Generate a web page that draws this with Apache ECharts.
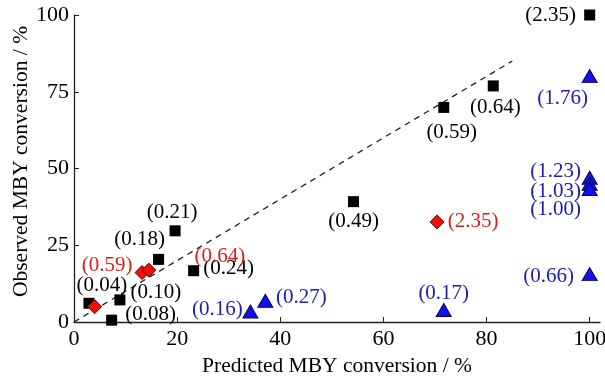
<!DOCTYPE html>
<html>
<head>
<meta charset="utf-8">
<title>MBY conversion parity plot</title>
<script src="https://cdn.jsdelivr.net/npm/echarts@6/dist/echarts.min.js"></script>
<style>
    html, body { margin: 0; padding: 0; background: #fff; }
    #chart { width: 605px; height: 376px; }
</style>
</head>
<body>
<div id="chart"></div>
<script>
    // black squares
    var blackX = [100, 81.3, 71.7, 54.2, 19.6, 16.4, 23.2, 8.9, 2.9, 7.3];
    var blackY = [100, 76.9, 69.9, 39.2, 29.7, 20.4, 16.7, 7.2, 6.1, 0.6];
    var blackText = ['(2.35)', '(0.64)', '(0.59)', '(0.49)', '(0.21)', '(0.18)', '(0.24)', '(0.10)', '(0.04)', '(0.08)'];
    // red diamonds
    var redX = [13.2, 14.5, 4.0, 70.4];
    var redY = [16.1, 16.9, 5.0, 32.6];
    var redText = ['(0.59)', '(0.64)', '', '(2.35)'];
    // blue triangles
    var blueX = [34.2, 37.1, 71.7, 100, 100, 100, 100, 100];
    var blueY = [3.4, 6.9, 3.9, 15.6, 80.1, 47, 45, 43.3];
    var blueText = ['(0.16)', '(0.27)', '(0.17)', '(0.66)', '(1.76)', '(1.23)', '(1.03)', '(1.00)'];
    // parity line
    var parityX = [0, 85];

    var xTicks = [0, 20, 40, 60, 80, 100];

    // where each label sits relative to its marker (px)
    var blackOffset = [[-39, 0], [2, 22], [8, 25], [0, 20], [-3, -18], [-19, -20], [35, -2], [36, -7], [13, -18], [39, -6]];
    var redOffset = [[-35, -7], [71, -14], [0, 0], [36, 0]];
    var blueOffset = [[-33, -2], [36, -3], [0, -17], [-41, 2], [-27, 22], [-34, -6], [-34, 8], [-34, 20]];

    var font = 'Liberation Serif';

    function build(xs, ys, texts, offs) {
        var out = [];
        for (var i = 0; i < xs.length; i++) {
            out.push({
                value: [xs[i], ys[i]],
                label: { formatter: texts[i], offset: offs[i] }
            });
        }
        return out;
    }

    var chart = echarts.init(document.getElementById('chart'));
    var option = {
        animation: false,
        grid: { left: 74, right: 5, top: 15, bottom: 54, outerBoundsMode: 'none' },
        xAxis: {
            type: 'value',
            min: 0,
            max: 102,
            interval: 20,
            name: 'Predicted MBY conversion / %',
            nameLocation: 'middle',
            nameGap: 27,
            nameTextStyle: { fontFamily: font, fontSize: 21.5, color: '#000' },
            axisLine: { lineStyle: { color: '#222', width: 1.3 } },
            axisTick: { inside: true, length: 5, lineStyle: { color: '#222' }, customValues: xTicks },
            axisLabel: { fontFamily: font, fontSize: 22, color: '#000', margin: 6, customValues: xTicks },
            splitLine: { show: false }
        },
        yAxis: {
            type: 'value',
            min: 0,
            max: 100,
            interval: 25,
            name: 'Observed MBY conversion / %',
            nameLocation: 'middle',
            nameGap: 42,
            nameMoveOverlap: false,
            nameTextStyle: { fontFamily: font, fontSize: 21.5, color: '#000', padding: [0, 0, 0, 14] },
            axisLine: { show: true, lineStyle: { color: '#222', width: 1.3 } },
            axisTick: { show: true, inside: true, length: 5, lineStyle: { color: '#222' } },
            axisLabel: { fontFamily: font, fontSize: 22, color: '#000', margin: 5 },
            splitLine: { show: false }
        },
        series: [
            {
                type: 'line',
                data: [[parityX[0], parityX[0]], [parityX[1], parityX[1]]],
                symbol: 'none',
                lineStyle: { color: '#222', width: 1.3, type: [6, 5] },
                z: 1
            },
            {
                type: 'scatter',
                symbol: 'rect',
                symbolSize: 11,
                itemStyle: { color: '#000', opacity: 1 },
                label: { show: true, position: 'inside', fontFamily: font, fontSize: 21, color: '#000' },
                data: build(blackX, blackY, blackText, blackOffset),
                z: 3
            },
            {
                type: 'scatter',
                symbol: 'diamond',
                symbolSize: 14,
                itemStyle: { color: '#ee1108', borderColor: '#5a0000', borderWidth: 1, opacity: 1 },
                label: { show: true, position: 'inside', fontFamily: font, fontSize: 21, color: '#dd1c1c' },
                data: build(redX, redY, redText, redOffset),
                z: 3
            },
            {
                type: 'scatter',
                symbol: 'triangle',
                symbolSize: [15, 13],
                itemStyle: { color: '#1010f0', borderColor: '#05054a', borderWidth: 1, opacity: 1 },
                label: { show: true, position: 'inside', fontFamily: font, fontSize: 21, color: '#2020b0' },
                data: build(blueX, blueY, blueText, blueOffset),
                z: 3
            }
        ]
    };
    chart.setOption(option);
</script>
</body>
</html>
